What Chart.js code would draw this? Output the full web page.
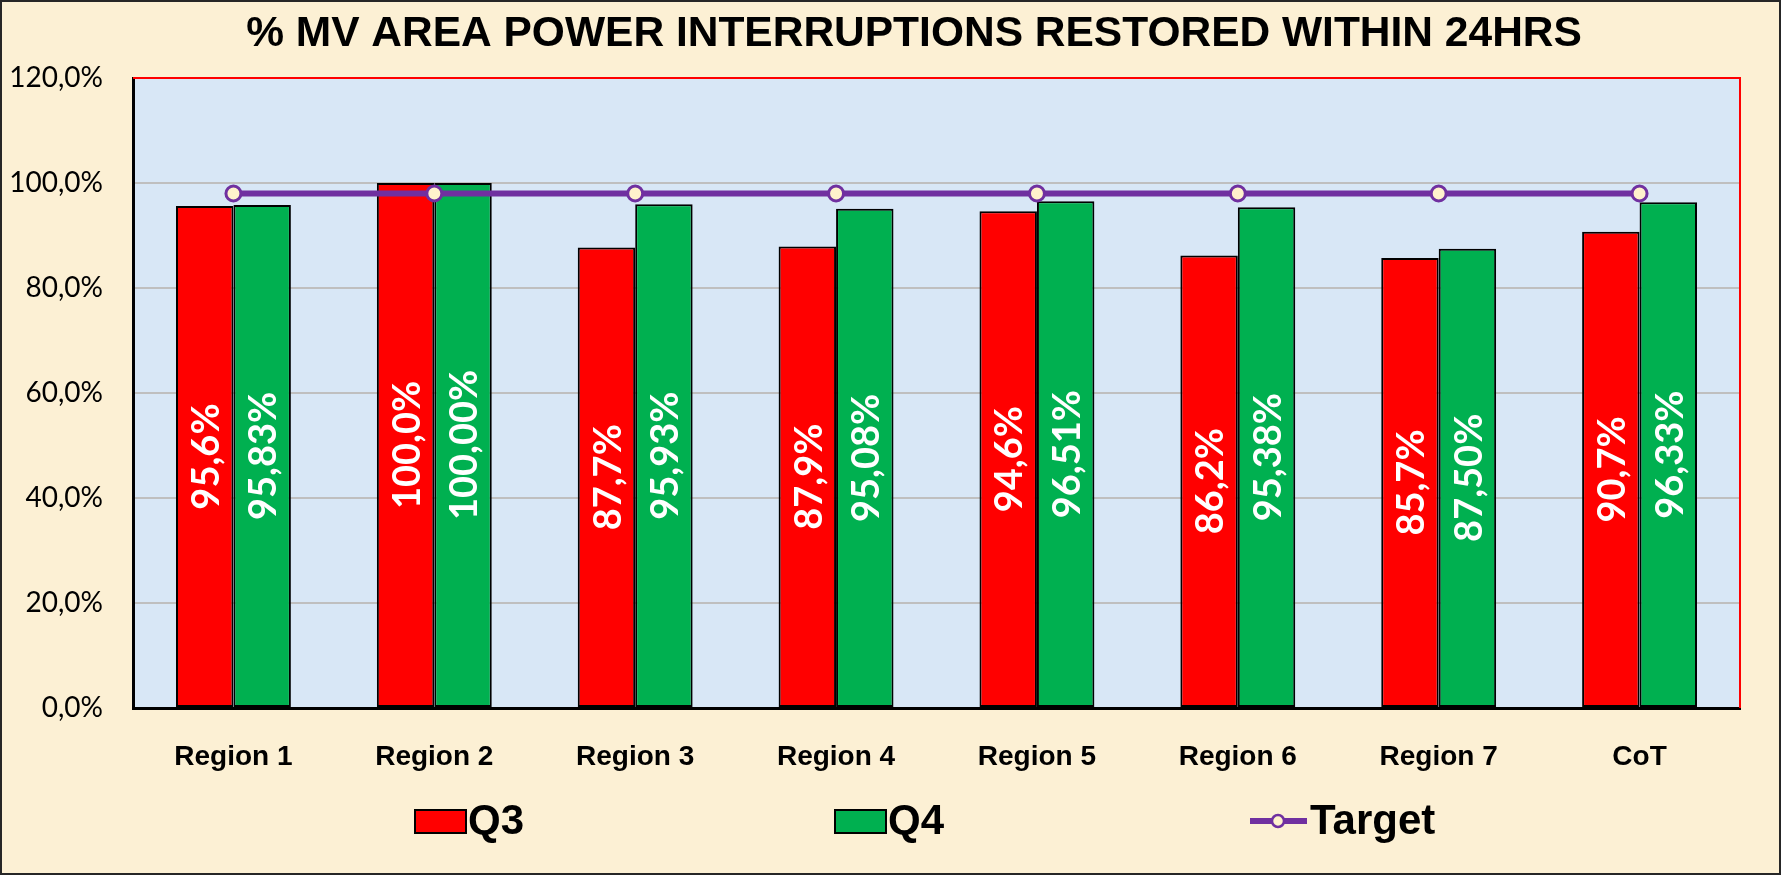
<!DOCTYPE html>
<html>
<head>
<meta charset="utf-8">
<title>% MV Area Power Interruptions Restored Within 24hrs</title>
<script src="https://cdn.jsdelivr.net/npm/chart.js@4.4.1/dist/chart.umd.min.js"></script>
<style>
  html, body { margin: 0; padding: 0; background: #fcf0d4; }
  #wrap { position: relative; width: 1781px; height: 875px; }
</style>
</head>
<body>
<div id="wrap"><canvas id="restoredChart"></canvas></div>
<script>
const chartTitle = '% MV AREA POWER INTERRUPTIONS RESTORED WITHIN 24HRS';
const regions = ['Region 1', 'Region 2', 'Region 3', 'Region 4', 'Region 5', 'Region 6', 'Region 7', 'CoT'];
const q3Values = [95.6, 100.0, 87.7, 87.9, 94.6, 86.2, 85.7, 90.7];
const q4Values = [95.83, 100.00, 95.93, 95.08, 96.51, 95.38, 87.50, 96.33];
const targetValues = [98, 98, 98, 98, 98, 98, 98, 98];
const yTicks = [0, 20, 40, 60, 80, 100, 120];

(function () {
  'use strict';

  const RED = '#ff0000';
  const GREEN = '#00b050';
  const PURPLE = '#7030a0';
  const CREAM = '#fcf0d4';
  const PLOT_BLUE = '#d8e7f6';

  function pct(v, digits) {
    return v.toFixed(digits).replace('.', ',') + '%';
  }

  // backgrounds, plot frame (red top/right) and outer border
  const framePlugin = {
    id: 'frame',
    beforeDraw: function (chart) {
      const ctx = chart.ctx;
      const a = chart.chartArea;
      ctx.save();
      ctx.fillStyle = CREAM;
      ctx.fillRect(0, 0, chart.width, chart.height);
      ctx.fillStyle = PLOT_BLUE;
      ctx.fillRect(a.left, a.top, a.right - a.left, a.bottom - a.top);
      ctx.restore();
    },
    beforeDatasetsDraw: function (chart) {
      const ctx = chart.ctx;
      const a = chart.chartArea;
      ctx.save();
      ctx.strokeStyle = RED;
      ctx.lineWidth = 2;
      ctx.beginPath();
      ctx.moveTo(a.left, a.top);
      ctx.lineTo(a.right, a.top);
      ctx.lineTo(a.right, a.bottom);
      ctx.stroke();
      ctx.restore();
    },
    afterDraw: function (chart) {
      const ctx = chart.ctx;
      ctx.save();
      ctx.strokeStyle = '#262626';
      ctx.lineWidth = 2;
      ctx.strokeRect(1, 1, chart.width - 2, chart.height - 2);
      ctx.restore();
    },
  };

  // title, slightly right of canvas centre as in the original
  const titlePlugin = {
    id: 'customTitle',
    afterDraw: function (chart) {
      const ctx = chart.ctx;
      ctx.save();
      ctx.font = 'bold 42.5px "Liberation Sans", Arial, sans-serif';
      ctx.fillStyle = '#000';
      ctx.textAlign = 'center';
      ctx.textBaseline = 'middle';
      ctx.fillText(chartTitle, 914, 34);
      ctx.restore();
    },
  };

  // vertical white value labels centred in each bar
  const barLabelPlugin = {
    id: 'barLabels',
    afterDatasetsDraw: function (chart) {
      const ctx = chart.ctx;
      ctx.save();
      ctx.font = 'bold 38px Lato, "Open Sans", sans-serif';
      ctx.fillStyle = '#ffffff';
      ctx.textAlign = 'center';
      ctx.textBaseline = 'middle';
      chart.data.datasets.forEach(function (ds, i) {
        if (ds.type !== 'bar') return;
        const meta = chart.getDatasetMeta(i);
        meta.data.forEach(function (bar, j) {
          const midY = (bar.y + bar.base) / 2;
          ctx.save();
          ctx.translate(bar.x, midY);
          ctx.rotate(-Math.PI / 2);
          ctx.fillText(pct(ds.data[j], ds.labelDigits), 0, 2);
          ctx.restore();
        });
      });
      ctx.restore();
    },
  };

  // legend row along the bottom
  const legendPlugin = {
    id: 'legendRow',
    afterDraw: function (chart) {
      const ctx = chart.ctx;
      const cy = 821;
      const anchors = [415, 835, 1250];
      ctx.save();
      ctx.font = 'bold 42px "Liberation Sans", Arial, sans-serif';
      ctx.textBaseline = 'middle';
      ctx.textAlign = 'left';
      chart.data.datasets.forEach(function (ds, i) {
        const x = anchors[i];
        let textX;
        if (ds.type === 'bar') {
          ctx.fillStyle = ds.backgroundColor;
          ctx.fillRect(x, cy - 11, 51, 23);
          ctx.strokeStyle = '#000';
          ctx.lineWidth = 2;
          ctx.strokeRect(x, cy - 11, 51, 23);
          textX = x + 53;
        } else {
          ctx.strokeStyle = ds.borderColor;
          ctx.lineWidth = 6;
          ctx.beginPath();
          ctx.moveTo(x, cy);
          ctx.lineTo(x + 57, cy);
          ctx.stroke();
          ctx.beginPath();
          ctx.arc(x + 28, cy, 6, 0, Math.PI * 2);
          ctx.fillStyle = ds.pointBackgroundColor;
          ctx.fill();
          ctx.lineWidth = 2.5;
          ctx.stroke();
          textX = x + 60;
        }
        ctx.fillStyle = '#000';
        ctx.fillText(ds.label, textX, cy + 1);
      });
      ctx.restore();
    },
  };

  function init() {
    const canvas = document.getElementById('restoredChart');

    new Chart(canvas, {
      data: {
        labels: regions,
        datasets: [
          {
            type: 'bar',
            label: 'Q3',
            data: q3Values,
            labelDigits: 1,
            backgroundColor: RED,
            borderColor: '#000',
            borderWidth: 2,
            borderSkipped: false,
            barPercentage: 1,
            categoryPercentage: 0.572,
            order: 2,
          },
          {
            type: 'bar',
            label: 'Q4',
            data: q4Values,
            labelDigits: 2,
            backgroundColor: GREEN,
            borderColor: '#000',
            borderWidth: 2,
            borderSkipped: false,
            barPercentage: 1,
            categoryPercentage: 0.572,
            order: 2,
          },
          {
            type: 'line',
            label: 'Target',
            data: targetValues,
            borderColor: PURPLE,
            borderWidth: 6,
            pointRadius: 7.5,
            pointBorderWidth: 3,
            pointBackgroundColor: '#fff2cc',
            pointBorderColor: PURPLE,
            fill: false,
            tension: 0,
            order: 0,
          },
        ],
      },
      options: {
        responsive: true,
        maintainAspectRatio: false,
        animation: false,
        layout: { padding: { left: 0, right: 41, top: 78, bottom: 67 } },
        plugins: {
          legend: { display: false },
          title: { display: false },
          tooltip: { enabled: false },
        },
        scales: {
          x: {
            grid: { display: false },
            border: { display: true, color: '#000', width: 3 },
            ticks: {
              color: '#000',
              padding: 24,
              font: { family: '"Liberation Sans", Arial, sans-serif', size: 28, weight: 'bold' },
            },
            afterFit: function (scale) {
              scale.height = 100;
            },
          },
          y: {
            min: 0,
            max: 120,
            afterBuildTicks: function (scale) {
              scale.ticks = yTicks.map(function (v) { return { value: v }; });
            },
            grid: {
              drawTicks: false,
              lineWidth: 2,
              color: function (context) {
                return context.tick && context.tick.value === 120 ? 'rgba(0,0,0,0)' : '#bfbfbf';
              },
            },
            border: { display: true, color: '#000', width: 3 },
            ticks: {
              color: '#000',
              padding: 30,
              font: { family: 'Lato, "Open Sans", sans-serif', size: 28 },
              callback: function (value) {
                return pct(value, 1);
              },
            },
            afterFit: function (scale) {
              scale.width = 133;
            },
          },
        },
      },
      plugins: [framePlugin, barLabelPlugin, titlePlugin, legendPlugin],
    });
  }

  document.addEventListener('DOMContentLoaded', init);
})();
</script>
</body>
</html>
